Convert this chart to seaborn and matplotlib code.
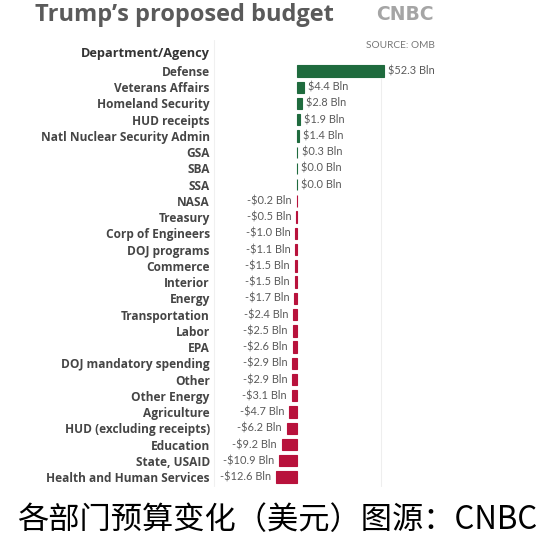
import numpy as np
import pandas as pd
import matplotlib.pyplot as plt
import seaborn as sns
from matplotlib.lines import Line2D

# Données : variation budgétaire par département (milliards $)
departements = [
    'Defense', 'Veterans Affairs', 'Homeland Security', 'HUD receipts',
    'Natl Nuclear Security Admin', 'GSA', 'SBA', 'SSA', 'NASA', 'Treasury',
    'Corp of Engineers', 'DOJ programs', 'Commerce', 'Interior', 'Energy',
    'Transportation', 'Labor', 'EPA', 'DOJ mandatory spending', 'Other',
    'Other Energy', 'Agriculture', 'HUD (excluding receipts)', 'Education',
    'State, USAID', 'Health and Human Services'
]
variation = [
    52.3, 4.4, 2.8, 1.9, 1.4, 0.3, 0.0, 0.0, -0.2, -0.5,
    -1.0, -1.1, -1.5, -1.5, -1.7, -2.4, -2.5, -2.6, -2.9, -2.9,
    -3.1, -4.7, -6.2, -9.2, -10.9, -12.6
]

df = pd.DataFrame({'dept': departements, 'val': variation})
df['signe'] = np.where(df['val'] >= 0, 'pos', 'neg')

VERT = '#1f6b3e'
ROUGE = '#b8123c'
GRIS = '#5a5a5a'

sns.set_style('white')
plt.rcParams['font.family'] = ['Open Sans', 'DejaVu Sans']

W, H = 542, 541
fig = plt.figure(figsize=(W / 100, H / 100), dpi=100)

# axe placé en pixels : zéro à x=297, 1.664 px par milliard
ax_l, ax_r = 214, 450
ax_top, ax_bot = 62.9, 485.1
ax = fig.add_axes([ax_l / W, 1 - ax_bot / H, (ax_r - ax_l) / W, (ax_bot - ax_top) / H])

sns.barplot(data=df, y='dept', x='val', hue='signe', orient='h',
            palette={'pos': VERT, 'neg': ROUGE}, dodge=False, width=0.7,
            saturation=1, legend=False, ax=ax, linewidth=0.8)
for patch in ax.patches:
    patch.set_edgecolor(patch.get_facecolor())

k = 1.664
ax.set_xlim((ax_l - 297) / k, (ax_r - 297) / k)
ax.set_ylim(len(departements) - 0.5, -0.5)

ax.set_xlabel('')
ax.set_ylabel('')
ax.set_xticks([])
ax.tick_params(axis='y', length=0, pad=3)
for lab in ax.get_yticklabels():
    lab.set_fontweight('bold')
    lab.set_fontsize(8.6)
    lab.set_color('#454545')
for s in ax.spines.values():
    s.set_visible(False)

# étiquettes de valeurs
for i, v in enumerate(variation):
    txt = f'${v:.1f} Bln' if v >= 0 else f'-${abs(v):.1f} Bln'
    if v >= 0:
        ax.annotate(txt, (v, i), xytext=(3, 0), textcoords='offset points',
                    ha='left', va='center', fontsize=7.9, color=GRIS, family='Lato')
    else:
        ax.annotate(txt, (v, i), xytext=(-3.5, 0), textcoords='offset points',
                    ha='right', va='center', fontsize=7.9, color=GRIS, family='Lato')

# traits de séparation très pâles
fig.add_artist(Line2D([214 / W, 214 / W], [1 - 40 / H, 1 - 486 / H], color='#f0f0f0', lw=0.8))
fig.add_artist(Line2D([381 / W, 381 / W], [1 - 78 / H, 1 - 486 / H], color='#eeeeee', lw=0.8))

# titres
fig.text(35 / W, 1 - 15 / H, 'Trump\u2019s proposed budget', ha='left', va='center',
         fontsize=17, fontweight='bold', color='#5a5a5a')
fig.text(376 / W, 1 - 14 / H, 'CNBC', ha='left', va='center',
         fontsize=13.5, fontweight='bold', color='#a5a5a5', family='DejaVu Sans')
fig.text(210 / W, 1 - 54 / H, 'Department/Agency', ha='right', va='center',
         fontsize=9.2, fontweight='bold', color='#333333')
fig.text(400 / W, 1 - 46 / H, 'SOURCE: OMB', ha='center', va='center',
         fontsize=7.3, color='#777777', family='Lato')

fig.text(277 / W, 1 - 520 / H, '各部门预算变化（美元）图源：CNBC', ha='center', va='center',
         fontsize=22.5, color='black', family=['Noto Sans CJK SC', 'DejaVu Sans'])

fig.savefig('out.png', dpi=100)
